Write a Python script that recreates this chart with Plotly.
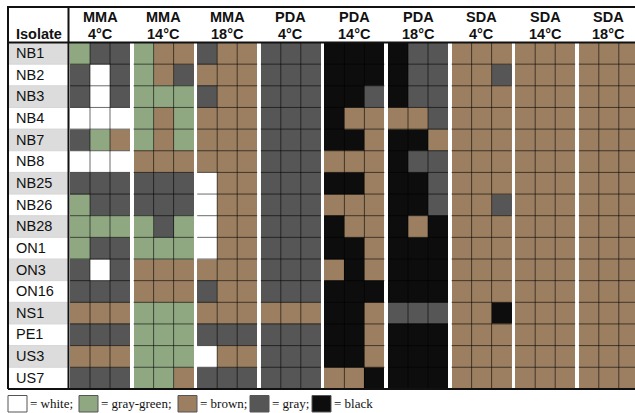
import plotly.graph_objects as go

# ---------------- data ----------------
isolates = ["NB1", "NB2", "NB3", "NB4", "NB7", "NB8", "NB25", "NB26", "NB28",
            "ON1", "ON3", "ON16", "NS1", "PE1", "US3", "US7"]
media = ["MMA", "MMA", "MMA", "PDA", "PDA", "PDA", "SDA", "SDA", "SDA"]
temps = ["4°C", "14°C", "18°C", "4°C", "14°C", "18°C", "4°C", "14°C", "18°C"]

# W = white, G = gray-green, B = brown, Y = gray, K = black (3 replicates each)
mma_4 = ["GYY", "YWY", "YWY", "WWW", "YGB", "WWW", "YYY", "GYY", "GGG", "GYY",
         "YWY", "YYY", "BBB", "YYY", "BBB", "YYY"]
mma_14 = ["GBB", "GBY", "GGG", "GBG", "GBG", "BBB", "YYY", "YYY", "GYG", "GGG",
          "BBB", "BBB", "GGG", "GGG", "GGG", "GGB"]
mma_18 = ["YBB", "BBB", "YBB", "BBB", "BBB", "BBB", "WBB", "WBB", "WBB", "WBB",
          "BBB", "YBB", "BBB", "YYY", "WBB", "YYY"]
pda_4 = ["YYY", "YYY", "YYY", "YYY", "YYY", "YYY", "YYY", "YYY", "YYY", "YYY",
         "YYY", "YYY", "BBB", "YYY", "YYY", "YYY"]
pda_14 = ["KKK", "KKK", "KKY", "KBB", "KKB", "BBB", "KKB", "BBB", "KBB", "KKB",
          "BKB", "KKK", "KKB", "KKB", "KKB", "BBK"]
pda_18 = ["KYY", "KYY", "KYY", "BBY", "KKB", "KYY", "KKY", "KKY", "KBK", "KKK",
          "KKK", "KKK", "YYY", "KKK", "KKK", "KKK"]
sda_4 = ["BBB", "BBY", "BBB", "BBB", "BBB", "BBB", "BBB", "BBY", "BBB", "BBB",
         "BBB", "BBB", "BBK", "BBB", "BBB", "BBB"]
sda_14 = ["BBB", "BBB", "BBB", "BBB", "BBB", "BBB", "BBB", "BBB", "BBB", "BBB",
          "BBB", "BBB", "BBB", "BBB", "BBB", "BBB"]
sda_18 = ["BBB", "BBB", "BBB", "BBB", "BBB", "BBB", "BBB", "BBB", "BBB", "BBB",
          "BBB", "BBB", "BBB", "BBB", "BBB", "BBB"]

legend_labels = ["= white;", "= gray-green;", "= brown;", "= gray;", "= black"]
codes = ["W", "G", "B", "Y", "K"]

# ---------------- style ----------------
colors = ["#ffffff", "#8fa882", "#9b7f60", "#565656", "#0d0d0d"]
groups = [mma_4, mma_14, mma_18, pda_4, pda_14, pda_18, sda_4, sda_14, sda_18]
W, H = 635, 413
PX_X = 20.0          # px per cell
X0 = -3.5            # data x at left edge
ROW_PX = 21.65
Y_TOP_PX = 42.5      # px position of grid top
GAP = 0.18
PERIOD = 3 + GAP
nrep = 3
nrows = len(isolates)

def ypx(p):
    return (p - Y_TOP_PX) / ROW_PX

def xpx(p):
    return p / PX_X + X0

# build heatmap matrix with gap columns (None)
edges = []
zrows = [[] for _ in range(nrows)]
for g, grp in enumerate(groups):
    start = g * PERIOD
    for c in range(nrep):
        edges.append(start + c)
        for r in range(nrows):
            zrows[r].append(codes.index(grp[r][c]))
    if g < len(groups) - 1:
        edges.append(start + nrep)
        for r in range(nrows):
            zrows[r].append(None)
edges.append((len(groups) - 1) * PERIOD + nrep)

cs = []
n = len(colors)
for i, col in enumerate(colors):
    cs.append([i / n, col])
    cs.append([(i + 1) / n, col])

fig = go.Figure()
fig.add_trace(go.Heatmap(
    z=zrows, x=edges, y=list(range(nrows + 1)),
    zmin=-0.5, zmax=n - 0.5, colorscale=cs, showscale=False,
    hoverinfo="skip"))

shapes = []
line_col = "rgba(0,0,0,0.58)"
# label column shading
for r in range(nrows):
    if r % 2 == 0:
        shapes.append(dict(type="rect", xref="x", yref="y",
                           x0=xpx(8), x1=xpx(68.5), y0=r, y1=r + 1,
                           fillcolor="#dcdcdc", line=dict(width=0), layer="below"))
# grid lines
for g in range(len(groups)):
    s = g * PERIOD
    for c in range(1, nrep):
        shapes.append(dict(type="line", xref="x", yref="y", x0=s + c, x1=s + c,
                           y0=0, y1=nrows, line=dict(color=line_col, width=1)))
    for r in range(1, nrows):
        shapes.append(dict(type="line", xref="x", yref="y", x0=s, x1=s + nrep,
                           y0=r, y1=r, line=dict(color=line_col, width=1)))
# label row lines
for r in range(1, nrows):
    shapes.append(dict(type="line", xref="x", yref="y", x0=xpx(8), x1=xpx(68),
                       y0=r, y1=r, line=dict(color="#d6d6d6", width=1)))

# borders
xr = xpx(W + 5)
shapes += [
    dict(type="line", xref="x", yref="y", x0=xpx(8), x1=xr, y0=ypx(7), y1=ypx(7),
         line=dict(color="#111", width=2)),
    dict(type="line", xref="x", yref="y", x0=xpx(8), x1=xr, y0=0, y1=0,
         line=dict(color="#111", width=2)),
    dict(type="line", xref="x", yref="y", x0=xpx(8), x1=xr, y0=nrows, y1=nrows,
         line=dict(color="#111", width=2)),
    dict(type="line", xref="x", yref="y", x0=xpx(8), x1=xpx(8), y0=ypx(6), y1=nrows,
         line=dict(color="#111", width=2)),
    dict(type="line", xref="x", yref="y", x0=xpx(68.5), x1=xpx(68.5), y0=ypx(6), y1=nrows,
         line=dict(color="#111", width=2)),
]

annotations = []
# header
for g in range(len(groups)):
    cx = g * PERIOD + nrep / 2
    annotations.append(dict(x=cx, y=ypx(17), xref="x", yref="y", text="<b>" + media[g] + "</b>",
                            showarrow=False, font=dict(family="Liberation Sans, Arial", size=14.5, color="#111")))
    annotations.append(dict(x=cx, y=ypx(33.5), xref="x", yref="y", text="<b>" + temps[g] + "</b>",
                            showarrow=False, font=dict(family="Liberation Sans, Arial", size=14.5, color="#111")))
annotations.append(dict(x=xpx(39), y=ypx(33.5), xref="x", yref="y", text="<b>Isolate</b>",
                        showarrow=False, font=dict(family="Liberation Sans, Arial", size=14.5, color="#111")))

# row labels
fig.add_trace(go.Scatter(
    x=[xpx(16)] * nrows, y=[r + 0.55 for r in range(nrows)], text=isolates,
    mode="text", textposition="middle right", hoverinfo="skip",
    textfont=dict(family="Liberation Sans, Arial", size=14.5, color="#111")))

# legend
leg_x = [8, 79, 178, 250, 312]
for lx, lab, col in zip(leg_x, legend_labels, colors):
    shapes.append(dict(type="rect", xref="paper", yref="paper",
                       x0=lx / W, x1=(lx + 19) / W, y0=1 - 412 / H, y1=1 - 395.5 / H,
                       fillcolor=col, line=dict(color="#555", width=1)))
    annotations.append(dict(x=(lx + 20) / W, y=1 - 403 / H, xref="paper", yref="paper",
                            xanchor="left", yanchor="middle", text=lab, showarrow=False,
                            font=dict(family="Liberation Serif, Times New Roman", size=13, color="#111")))

fig.update_layout(
    width=W, height=H, margin=dict(l=0, r=0, t=0, b=0),
    paper_bgcolor="white", plot_bgcolor="white", showlegend=False,
    xaxis=dict(range=[X0, X0 + W / PX_X], visible=False, fixedrange=True),
    yaxis=dict(range=[ypx(H), ypx(0)], visible=False, fixedrange=True),
    shapes=shapes, annotations=annotations,
)

fig.write_html(
    "out.html",
    config={"displayModeBar": False},
    post_script="document.body.style.margin='0';document.body.style.padding='0';"
                "document.body.style.overflow='hidden';",
)
